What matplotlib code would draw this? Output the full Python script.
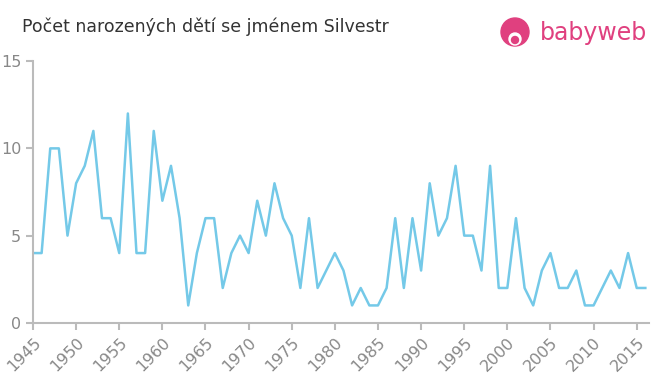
import matplotlib.pyplot as plt
from matplotlib.patches import Ellipse

# Počet narozených dětí se jménem Silvestr
years = list(range(1945, 2017))
counts = [4, 4, 10, 10, 5, 8, 9, 11, 6, 6,
          4, 12, 4, 4, 11, 7, 9, 6, 1, 4,
          6, 6, 2, 4, 5, 4, 7, 5, 8, 6,
          5, 2, 6, 2, 3, 4, 3, 1, 2, 1,
          1, 2, 6, 2, 6, 3, 8, 5, 6, 9,
          5, 5, 3, 9, 2, 2, 6, 2, 1, 3,
          4, 2, 2, 3, 1, 1, 2, 3, 2, 4,
          2, 2]
xticks = list(range(1945, 2016, 5))
yticks = [0, 5, 10, 15]

fig = plt.figure(figsize=(6.6, 3.75), dpi=100)
ax = fig.add_axes([0.05, 0.139, 0.933, 0.698])

ax.plot(years, counts, color='#74c9e8', linewidth=1.8)

ax.set_xlim(1945, 2016.4)
ax.set_ylim(0, 15)
ax.set_xticks(xticks)
ax.set_xticklabels([str(y) for y in xticks], rotation=45, ha='right', rotation_mode='anchor')
ax.set_yticks(yticks)

for s in ['top', 'right']:
    ax.spines[s].set_visible(False)
for s in ['left', 'bottom']:
    ax.spines[s].set_color('#bbbbbb')
    ax.spines[s].set_linewidth(1.5)
ax.tick_params(colors='#bbbbbb', labelcolor='#888888', labelsize=11.5, length=5, width=1.5)

fig.text(0.033, 0.915, 'Počet narozených dětí se jménem Silvestr', fontsize=12.5, color='#333333')

# logo
pink = '#e0407f'
cx, cy = 515 / 660, 1 - 32 / 375
fig.patches.append(Ellipse((cx, cy), 28 / 660, 28 / 375, transform=fig.transFigure,
                           color=pink, zorder=5))
fig.patches.append(Ellipse((cx, cy - 7 / 375), 12 / 660, 12 / 375, transform=fig.transFigure,
                           color='white', zorder=6))
fig.patches.append(Ellipse((cx, cy - 8 / 375), 7 / 660, 7 / 375, transform=fig.transFigure,
                           color=pink, zorder=7))
fig.text(540 / 660, 1 - 33 / 375, 'babyweb', fontsize=17, color=pink, va='center', ha='left')

plt.savefig('out.png', dpi=100)
